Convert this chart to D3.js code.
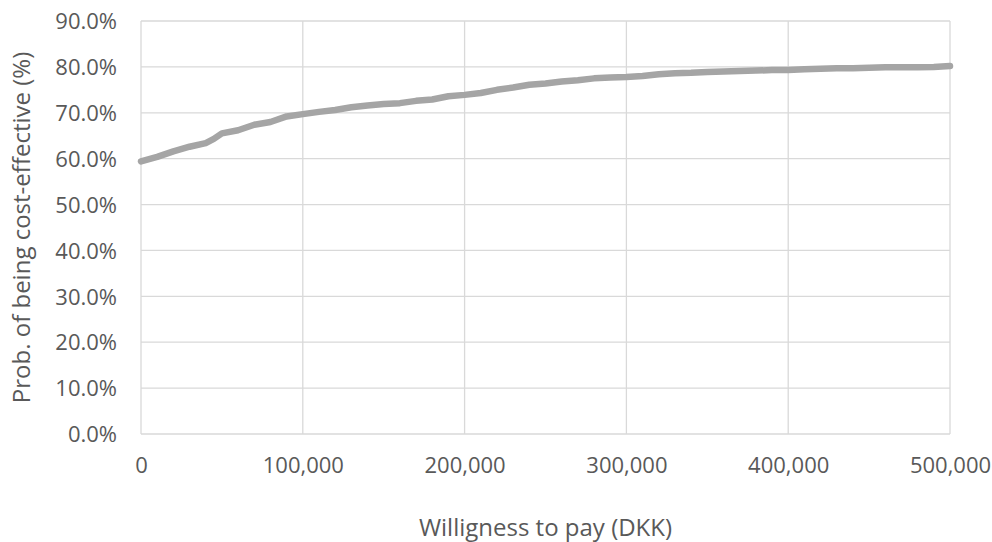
<!DOCTYPE html>
<html>
<head>
<meta charset="utf-8">
<script src="https://cdn.jsdelivr.net/npm/d3@7"></script>
<style>
  html, body { margin: 0; padding: 0; background: #fff; }
  svg { display: block; font-family: "Open Sans", "Noto Sans", sans-serif; }
</style>
</head>
<body>
<svg id="chart" width="992" height="542"></svg>
<script>
// Willingness to pay (DKK)
const wtp = [0, 10000, 20000, 30000, 40000, 45000, 50000, 60000, 70000, 80000, 90000,
  100000, 110000, 120000, 130000, 140000, 150000, 160000, 170000, 180000, 190000,
  200000, 210000, 220000, 230000, 240000, 250000, 260000, 270000, 280000, 290000,
  300000, 310000, 320000, 330000, 340000, 350000, 360000, 370000, 380000, 390000,
  400000, 410000, 420000, 430000, 440000, 450000, 460000, 470000, 480000, 490000, 500000];
// Probability of being cost-effective (fraction)
const prob = [0.594, 0.604, 0.616, 0.626, 0.634, 0.643, 0.655, 0.662, 0.674, 0.680, 0.692,
  0.697, 0.702, 0.706, 0.712, 0.716, 0.719, 0.721, 0.726, 0.729, 0.736,
  0.739, 0.743, 0.750, 0.755, 0.761, 0.764, 0.768, 0.771, 0.775, 0.777,
  0.778, 0.780, 0.784, 0.786, 0.787, 0.789, 0.790, 0.791, 0.792, 0.793,
  0.793, 0.795, 0.796, 0.797, 0.797, 0.798, 0.799, 0.799, 0.799, 0.800, 0.802];
const xTicks = [0, 100000, 200000, 300000, 400000, 500000];
const yTicks = [0, 0.1, 0.2, 0.3, 0.4, 0.5, 0.6, 0.7, 0.8, 0.9];
const xTitle = "Willigness to pay (DKK)";
const yTitle = "Prob. of being cost-effective (%)";

const svg = d3.select("#chart");
const W = 992, H = 542;
const m = { left: 141, right: W - 950, top: 21, bottom: H - 434 };
const x = d3.scaleLinear().domain([0, 500000]).range([m.left, W - m.right]);
const y = d3.scaleLinear().domain([0, 0.9]).range([H - m.bottom, m.top]);

const textColor = "#595959";
const gridColor = "#d9d9d9";

// horizontal gridlines
svg.append("g").selectAll("line").data(yTicks).join("line")
  .attr("x1", x(0)).attr("x2", x(500000))
  .attr("y1", d => y(d)).attr("y2", d => y(d))
  .attr("stroke", gridColor).attr("stroke-width", 1.3);
// vertical gridlines
svg.append("g").selectAll("line").data(xTicks).join("line")
  .attr("y1", y(0)).attr("y2", y(0.9))
  .attr("x1", d => x(d)).attr("x2", d => x(d))
  .attr("stroke", gridColor).attr("stroke-width", 1.3);

// y axis labels
const yAxis = d3.axisLeft(y).tickValues(yTicks).tickFormat(d3.format(".1%")).tickSize(0).tickPadding(24);
const gy = svg.append("g").attr("transform", `translate(${m.left},0)`).call(yAxis);
gy.select(".domain").remove();
gy.selectAll("text").attr("fill", textColor).style("font-size", "22px")
  .style("font-family", '"Open Sans", sans-serif').attr("dy", "0.35em");

// x axis labels
const xAxis = d3.axisBottom(x).tickValues(xTicks).tickFormat(d3.format(",")).tickSize(0).tickPadding(23);
const gx = svg.append("g").attr("transform", `translate(0,${y(0)})`).call(xAxis);
gx.select(".domain").remove();
gx.selectAll("text").attr("fill", textColor).style("font-size", "22px")
  .style("font-family", '"Open Sans", sans-serif');

// line
const line = d3.line().x((d, i) => x(wtp[i])).y(d => y(d));
svg.append("path").datum(prob)
  .attr("d", line)
  .attr("fill", "none")
  .attr("stroke", "#a5a5a5")
  .attr("stroke-width", 6.5)
  .attr("stroke-linejoin", "round")
  .attr("stroke-linecap", "round");

// titles
svg.append("text").attr("x", (x(0) + x(500000)) / 2).attr("y", 536)
  .attr("text-anchor", "middle").attr("fill", textColor)
  .style("font-size", "24px").text(xTitle);
svg.append("text")
  .attr("transform", `translate(30,${(y(0) + y(0.9)) / 2}) rotate(-90)`)
  .attr("text-anchor", "middle").attr("fill", textColor)
  .style("font-size", "24px").text(yTitle);
</script>
</body>
</html>
